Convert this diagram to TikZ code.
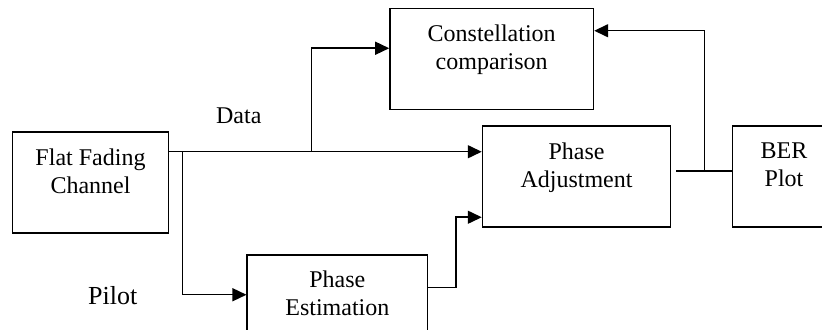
\documentclass[tikz,border=0pt]{standalone}
\usepackage{fontspec}
\setmainfont{Liberation Serif}
\usetikzlibrary{positioning, arrows.meta}
\tikzset{>={Triangle[length=7pt, width=6.5pt]}, % Filled arrow heads
block/.style={ % Sets the properties for each box
draw, line width=0.75pt,
minimum height=50.5pt, inner sep=0pt},
blocktext/.style={ % Text sits near the top of a box
anchor=north, inner sep=0pt, yshift=-8.4pt,
align=center, font=\fontsize{12}{14}\selectfont},
wire/.style={line width=0.75pt}} % Connectors

\begin{document}
\begin{tikzpicture}
    \clip (0,0) rectangle (411pt,-165pt);

    \node[block, minimum width=78pt, label={[blocktext]north:Flat Fading\\Channel}] (ch) at (45.25pt,-91.25pt) {};
    \node[block, minimum width=94pt, right=156.25pt of ch, yshift=3pt, label={[blocktext]north:Phase\\Adjustment}] (adj) {};
    \node[block, minimum width=51.5pt, right=30.25pt of adj, label={[blocktext]north:BER\\Plot}] (ber) {};
    \node[block, minimum width=101.75pt, above=7.5pt of adj, xshift=-42.4pt, label={[blocktext]north:Constellation\\comparison}] (con) {};
    \node[block, minimum width=90.15pt, below right=10.15pt and 38.6pt of ch, label={[blocktext]north:Phase\\Estimation}] (est) {};

    \coordinate (split) at ([yshift=-10.25pt]ch.north east);
    \coordinate (cin) at ([yshift=-20.25pt]con.north west);
    \coordinate (up) at ([xshift=-38.75pt]cin);
    \coordinate (ein) at ([yshift=-20.35pt]est.north west);
    \coordinate (eout) at ([yshift=-16.85pt]est.north east);
    \coordinate (ain) at ([yshift=-46pt]adj.north west);
    \coordinate (aout) at ([xshift=2.5pt, yshift=-23pt]adj.north east);
    \coordinate (bin) at (aout -| ber.west);

    \draw[wire, ->] (split) -- (split -| adj.west);
    \draw[wire, ->] (up |- split) |- (cin);
    \draw[wire, ->] ([xshift=6.5pt]split) |- (ein);
    \draw[wire, ->] (eout) -- ++(13.85pt,0) |- (ain);
    \draw[wire] (aout) -- (bin);
    \draw[wire, ->] ([xshift=-13.75pt]bin) |- ([yshift=-11.5pt]con.north east);

    \node[anchor=base, font=\fontsize{12}{14}\selectfont] (data) at ([xshift=34.75pt, yshift=14pt]split) {Data};
    \node[anchor=base, font=\fontsize{13}{15}\selectfont] (pilot) at ([xshift=-66.85pt, yshift=-5pt]ein) {Pilot};

\end{tikzpicture}
\end{document}
